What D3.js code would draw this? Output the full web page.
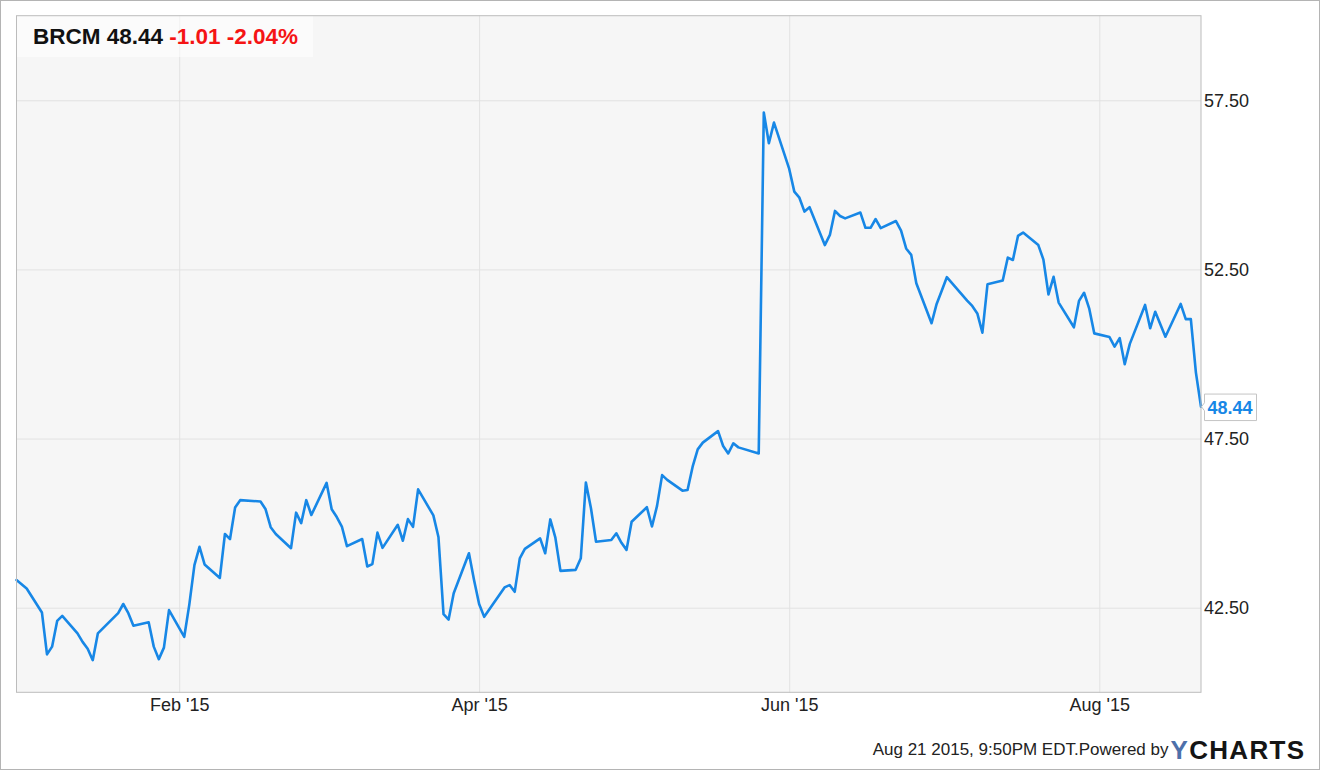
<!DOCTYPE html>
<html><head><meta charset="utf-8">
<script src="https://cdn.jsdelivr.net/npm/d3@7"></script>
<style>
body{margin:0;background:#fff}
svg{display:block}
text{font-family:"Liberation Sans",Arial,Helvetica,sans-serif}
</style>
</head><body>
<svg id="chart" width="1321" height="771"></svg>
<script>
// ---- data ----
const dates = [
"2014-12-31","2015-01-02","2015-01-05","2015-01-06","2015-01-07","2015-01-08","2015-01-09",
"2015-01-12","2015-01-13","2015-01-14","2015-01-15","2015-01-16","2015-01-20","2015-01-21","2015-01-22","2015-01-23",
"2015-01-26","2015-01-27","2015-01-28","2015-01-29","2015-01-30",
"2015-02-02","2015-02-03","2015-02-04","2015-02-05","2015-02-06",
"2015-02-09","2015-02-10","2015-02-11","2015-02-12","2015-02-13",
"2015-02-17","2015-02-18","2015-02-19","2015-02-20",
"2015-02-23","2015-02-24","2015-02-25","2015-02-26","2015-02-27",
"2015-03-02","2015-03-03","2015-03-04","2015-03-05","2015-03-06",
"2015-03-09","2015-03-10","2015-03-11","2015-03-12","2015-03-13",
"2015-03-16","2015-03-17","2015-03-18","2015-03-19","2015-03-20",
"2015-03-23","2015-03-24","2015-03-25","2015-03-26","2015-03-27",
"2015-03-30","2015-03-31","2015-04-01","2015-04-02",
"2015-04-06","2015-04-07","2015-04-08","2015-04-09","2015-04-10",
"2015-04-13","2015-04-14","2015-04-15","2015-04-16","2015-04-17",
"2015-04-20","2015-04-21","2015-04-22","2015-04-23","2015-04-24",
"2015-04-27","2015-04-28","2015-04-29","2015-04-30","2015-05-01",
"2015-05-04","2015-05-05","2015-05-06","2015-05-07","2015-05-08",
"2015-05-11","2015-05-12","2015-05-13","2015-05-14","2015-05-15",
"2015-05-18","2015-05-19","2015-05-20","2015-05-21","2015-05-22",
"2015-05-26","2015-05-27","2015-05-28","2015-05-29",
"2015-06-01","2015-06-02","2015-06-03","2015-06-04","2015-06-05",
"2015-06-08","2015-06-09","2015-06-10","2015-06-11","2015-06-12",
"2015-06-15","2015-06-16","2015-06-17","2015-06-18","2015-06-19",
"2015-06-22","2015-06-23","2015-06-24","2015-06-25","2015-06-26",
"2015-06-29","2015-06-30","2015-07-01","2015-07-02",
"2015-07-06","2015-07-07","2015-07-08","2015-07-09","2015-07-10",
"2015-07-13","2015-07-14","2015-07-15","2015-07-16","2015-07-17",
"2015-07-20","2015-07-21","2015-07-22","2015-07-23","2015-07-24",
"2015-07-27","2015-07-28","2015-07-29","2015-07-30","2015-07-31",
"2015-08-03","2015-08-04","2015-08-05","2015-08-06","2015-08-07",
"2015-08-10","2015-08-11","2015-08-12","2015-08-13","2015-08-14",
"2015-08-17","2015-08-18","2015-08-19","2015-08-20","2015-08-21"
];
const closes = [
43.32,43.07,42.36,41.12,41.35,42.11,42.26,
41.74,41.49,41.29,40.95,41.74,42.34,42.61,42.34,41.97,
42.07,41.35,40.98,41.32,42.43,
41.64,42.60,43.76,44.30,43.78,
43.38,44.68,44.53,45.46,45.68,
45.64,45.41,44.88,44.68,
44.26,45.31,45.00,45.68,45.24,
46.19,45.41,45.18,44.90,44.32,
44.53,43.72,43.79,44.72,44.27,
44.95,44.48,45.12,44.89,46.00,
45.23,44.59,42.31,42.15,42.93,
44.11,43.32,42.61,42.23,
43.10,43.17,42.97,43.96,44.24,
44.55,44.11,45.11,44.57,43.59,
43.62,43.96,46.20,45.44,44.45,
44.50,44.70,44.42,44.21,45.04,
45.47,44.90,45.51,46.42,46.28,
45.96,45.98,46.67,47.18,47.38,
47.72,47.28,47.06,47.36,47.24,
47.06,57.14,56.23,56.84,
55.47,54.80,54.62,54.21,54.34,
53.22,53.52,54.23,54.08,54.01,
54.18,53.73,53.73,53.99,53.72,
53.93,53.65,53.12,52.93,52.09,
50.91,51.48,51.87,52.27,
51.58,51.42,51.20,50.63,52.06,
52.17,52.85,52.78,53.49,53.59,
53.22,52.79,51.76,52.28,51.52,
50.79,51.57,51.81,51.35,50.61,
50.50,50.22,50.47,49.70,50.30,
51.45,50.76,51.25,50.88,50.51,
51.48,51.03,51.03,49.45,48.44
];
const xTickDates = ["2015-02-01","2015-04-01","2015-06-01","2015-08-01"];
const xTickLabels = ["Feb '15","Apr '15","Jun '15","Aug '15"];
const yTicks = [42.5, 47.5, 52.5, 57.5];
const yDomain = [40, 60];
const xDomain = ["2014-12-31","2015-08-21"];
const ticker = "BRCM";
const lastPrice = 48.44;
const change = -1.01;
const changePct = -2.04;
const footerText = "Aug 21 2015, 9:50PM EDT.Powered by";

// ---- layout ----
const W = 1321, H = 771;
const L = 16.5, R = 1201, T = 15.7, B = 692.3;
const parse = d3.utcParse("%Y-%m-%d");
const data = dates.map((d,i)=>({date:parse(d), v:closes[i]}));

const x = d3.scaleUtc().domain(xDomain.map(parse)).range([L, R]);
const y = d3.scaleLinear().domain(yDomain).range([B, T]);

const svg = d3.select("#chart");

// outer border
svg.append("rect").attr("x",0.5).attr("y",0.5).attr("width",W-2).attr("height",H-2)
  .attr("fill","#fff").attr("stroke","#b4b4b4").attr("stroke-width",1);

// plot background
svg.append("rect").attr("x",L).attr("y",T).attr("width",R-L).attr("height",B-T)
  .attr("fill","#f6f6f6");

// x axis with gridlines
const xAxis = d3.axisBottom(x)
  .tickValues(xTickDates.map(parse))
  .tickFormat((d,i)=>xTickLabels[i])
  .tickSizeInner(-(B-T)).tickSizeOuter(0).tickPadding(6);
const gx = svg.append("g").attr("transform",`translate(0,${B})`).call(xAxis);
gx.select(".domain").remove();
gx.selectAll("line").attr("stroke","#e2e2e2").attr("stroke-width",1);
gx.selectAll("text").attr("fill","#222").style("font-size","18px");

// y axis with gridlines (right side)
const yAxis = d3.axisRight(y)
  .tickValues(yTicks)
  .tickFormat(d3.format(".2f"))
  .tickSizeInner(-(R-L)).tickSizeOuter(0).tickPadding(3);
const gy = svg.append("g").attr("transform",`translate(${R},0)`).call(yAxis);
gy.select(".domain").remove();
gy.selectAll("line").attr("stroke","#e2e2e2").attr("stroke-width",1);
gy.selectAll("text").attr("fill","#222").style("font-size","18px");

// title box
svg.append("rect").attr("x",L).attr("y",T).attr("width",296.5).attr("height",41.3)
  .attr("fill","#ffffff").attr("fill-opacity",0.55);
const title = svg.append("text").attr("x",33).attr("y",44.3)
  .style("font-size","22.5px").style("font-weight","bold");
title.append("tspan").attr("fill","#111").text(`${ticker} ${lastPrice.toFixed(2)} `);
title.append("tspan").attr("fill","#f51414")
  .text(`${change.toFixed(2)} ${changePct.toFixed(2)}%`);

// price line
const line = d3.line().x(d=>x(d.date)).y(d=>y(d.v));
svg.append("path").datum(data).attr("d",line)
  .attr("fill","none").attr("stroke","#1787e6").attr("stroke-width",2.6)
  .attr("stroke-linejoin","round").attr("stroke-linecap","round");

// plot frame
svg.append("rect").attr("x",L).attr("y",T).attr("width",R-L).attr("height",B-T)
  .attr("fill","none").attr("stroke","#bcbcbc").attr("stroke-width",1);

// last value label
const last = data[data.length-1];
const ly = y(last.v);
const bx = R + 3.5, bw = 52, bh = 26.5, by0 = ly - 12.7;
svg.append("path")
  .attr("d",`M${bx},${by0} H${bx+bw} V${by0+bh} H${bx} V${ly+4} L${R+0.5},${ly} L${bx},${ly-4} Z`)
  .attr("fill","#fff").attr("stroke","#c4c4c4").attr("stroke-width",1);
svg.append("text").attr("x",bx+3).attr("y",ly+6.8)
  .style("font-size","18px").style("font-weight","bold").attr("fill","#1787e6")
  .text(last.v.toFixed(2));

// footer
svg.append("text").attr("x",872.7).attr("y",755)
  .style("font-size","17px").attr("fill","#222").text(footerText);
const logo = svg.append("text").attr("x",1170.5).attr("y",759)
  .style("font-size","26px").style("font-weight","bold").style("letter-spacing","1.3px");
logo.append("tspan").attr("fill","#4d70aa").text("Y");
logo.append("tspan").attr("fill","#151515").text("CHARTS");
</script>
</body></html>
